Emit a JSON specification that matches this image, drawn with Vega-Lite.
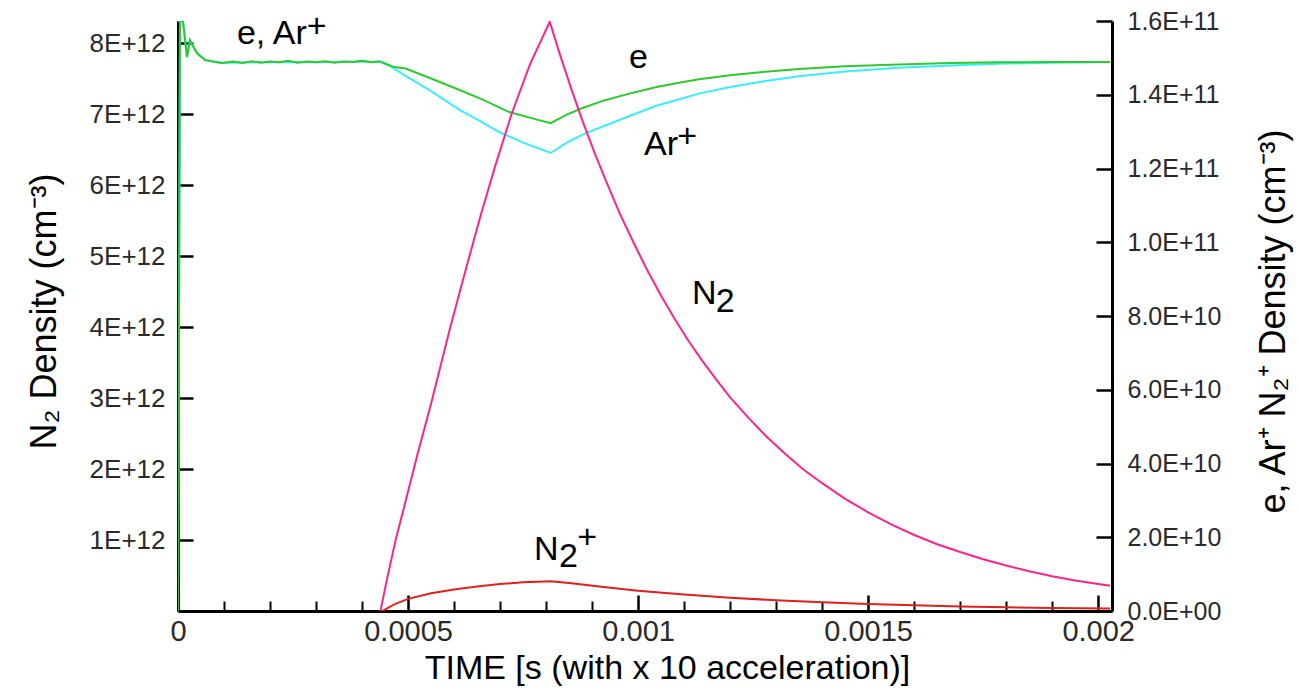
{
  "$schema": "https://vega.github.io/schema/vega-lite/v6.json",
  "width": 934,
  "height": 590,
  "autosize": {"type": "none"},
  "padding": {"left": 178, "top": 21, "right": 185, "bottom": 81},
  "background": "white",
  "config": {"view": {"stroke": null}, "font": "Liberation Sans", "axis": {"grid": false}},
  "datasets": {
    "curves": [
      {"series": "e", "t": 0, "value": 0},
      {"series": "e", "t": 0.0000043, "value": 1.6e11},
      {"series": "e", "t": 0.0000108, "value": 1.6e11},
      {"series": "e", "t": 0.0000195, "value": 1.502e11},
      {"series": "e", "t": 0.000026, "value": 1.548e11},
      {"series": "e", "t": 0.000041, "value": 1.513e11},
      {"series": "e", "t": 0.000059, "value": 1.494e11},
      {"series": "e", "t": 0.000095, "value": 1.486e11},
      {"series": "e", "t": 0.00012, "value": 1.490e11},
      {"series": "e", "t": 0.00014, "value": 1.486e11},
      {"series": "e", "t": 0.00016, "value": 1.491e11},
      {"series": "e", "t": 0.00018, "value": 1.487e11},
      {"series": "e", "t": 0.0002, "value": 1.490e11},
      {"series": "e", "t": 0.00022, "value": 1.488e11},
      {"series": "e", "t": 0.00024, "value": 1.492e11},
      {"series": "e", "t": 0.00026, "value": 1.487e11},
      {"series": "e", "t": 0.00028, "value": 1.490e11},
      {"series": "e", "t": 0.0003, "value": 1.488e11},
      {"series": "e", "t": 0.00032, "value": 1.491e11},
      {"series": "e", "t": 0.00034, "value": 1.487e11},
      {"series": "e", "t": 0.00036, "value": 1.490e11},
      {"series": "e", "t": 0.00038, "value": 1.489e11},
      {"series": "e", "t": 0.0004, "value": 1.492e11},
      {"series": "e", "t": 0.00042, "value": 1.488e11},
      {"series": "e", "t": 0.000438, "value": 1.491e11},
      {"series": "e", "t": 0.00047, "value": 1.475e11},
      {"series": "e", "t": 0.000495, "value": 1.471e11},
      {"series": "e", "t": 0.000503, "value": 1.467e11},
      {"series": "e", "t": 0.00055, "value": 1.444e11},
      {"series": "e", "t": 0.000612, "value": 1.413e11},
      {"series": "e", "t": 0.00066, "value": 1.388e11},
      {"series": "e", "t": 0.00072, "value": 1.353e11},
      {"series": "e", "t": 0.00077, "value": 1.336e11},
      {"series": "e", "t": 0.00081, "value": 1.323e11},
      {"series": "e", "t": 0.000845, "value": 1.346e11},
      {"series": "e", "t": 0.000879, "value": 1.364e11},
      {"series": "e", "t": 0.00093, "value": 1.386e11},
      {"series": "e", "t": 0.000987, "value": 1.405e11},
      {"series": "e", "t": 0.00104, "value": 1.421e11},
      {"series": "e", "t": 0.001095, "value": 1.434e11},
      {"series": "e", "t": 0.001132, "value": 1.442e11},
      {"series": "e", "t": 0.0012, "value": 1.453e11},
      {"series": "e", "t": 0.00127, "value": 1.462e11},
      {"series": "e", "t": 0.001349, "value": 1.470e11},
      {"series": "e", "t": 0.00145, "value": 1.477e11},
      {"series": "e", "t": 0.001566, "value": 1.482e11},
      {"series": "e", "t": 0.00168, "value": 1.486e11},
      {"series": "e", "t": 0.001783, "value": 1.488e11},
      {"series": "e", "t": 0.0019, "value": 1.489e11},
      {"series": "e", "t": 0.002026, "value": 1.489e11},
      {"series": "Ar+", "t": 0, "value": 0},
      {"series": "Ar+", "t": 0.0000043, "value": 1.6e11},
      {"series": "Ar+", "t": 0.0000108, "value": 1.6e11},
      {"series": "Ar+", "t": 0.0000195, "value": 1.502e11},
      {"series": "Ar+", "t": 0.000026, "value": 1.548e11},
      {"series": "Ar+", "t": 0.000041, "value": 1.513e11},
      {"series": "Ar+", "t": 0.000059, "value": 1.494e11},
      {"series": "Ar+", "t": 0.000095, "value": 1.486e11},
      {"series": "Ar+", "t": 0.0002, "value": 1.489e11},
      {"series": "Ar+", "t": 0.0003, "value": 1.488e11},
      {"series": "Ar+", "t": 0.0004, "value": 1.490e11},
      {"series": "Ar+", "t": 0.000438, "value": 1.489e11},
      {"series": "Ar+", "t": 0.00046, "value": 1.478e11},
      {"series": "Ar+", "t": 0.000503, "value": 1.445e11},
      {"series": "Ar+", "t": 0.00055, "value": 1.410e11},
      {"series": "Ar+", "t": 0.000612, "value": 1.359e11},
      {"series": "Ar+", "t": 0.00065, "value": 1.333e11},
      {"series": "Ar+", "t": 0.000698, "value": 1.299e11},
      {"series": "Ar+", "t": 0.00075, "value": 1.270e11},
      {"series": "Ar+", "t": 0.00081, "value": 1.242e11},
      {"series": "Ar+", "t": 0.000845, "value": 1.270e11},
      {"series": "Ar+", "t": 0.000879, "value": 1.292e11},
      {"series": "Ar+", "t": 0.00094, "value": 1.322e11},
      {"series": "Ar+", "t": 0.000987, "value": 1.345e11},
      {"series": "Ar+", "t": 0.00104, "value": 1.370e11},
      {"series": "Ar+", "t": 0.001095, "value": 1.390e11},
      {"series": "Ar+", "t": 0.001132, "value": 1.403e11},
      {"series": "Ar+", "t": 0.0012, "value": 1.421e11},
      {"series": "Ar+", "t": 0.00127, "value": 1.436e11},
      {"series": "Ar+", "t": 0.001349, "value": 1.450e11},
      {"series": "Ar+", "t": 0.00145, "value": 1.463e11},
      {"series": "Ar+", "t": 0.001566, "value": 1.473e11},
      {"series": "Ar+", "t": 0.00168, "value": 1.479e11},
      {"series": "Ar+", "t": 0.001783, "value": 1.484e11},
      {"series": "Ar+", "t": 0.0019, "value": 1.487e11},
      {"series": "Ar+", "t": 0.002026, "value": 1.489e11},
      {"series": "N2+", "t": 0.000444, "value": 0},
      {"series": "N2+", "t": 0.00047, "value": 1.8e9},
      {"series": "N2+", "t": 0.0005, "value": 3.3e9},
      {"series": "N2+", "t": 0.00055, "value": 4.8e9},
      {"series": "N2+", "t": 0.0006, "value": 5.85e9},
      {"series": "N2+", "t": 0.00065, "value": 6.65e9},
      {"series": "N2+", "t": 0.0007, "value": 7.3e9},
      {"series": "N2+", "t": 0.00075, "value": 7.8e9},
      {"series": "N2+", "t": 0.00081, "value": 8.1e9},
      {"series": "N2+", "t": 0.00086, "value": 7.45e9},
      {"series": "N2+", "t": 0.00092, "value": 6.6e9},
      {"series": "N2+", "t": 0.001, "value": 5.5e9},
      {"series": "N2+", "t": 0.0011, "value": 4.45e9},
      {"series": "N2+", "t": 0.0012, "value": 3.6e9},
      {"series": "N2+", "t": 0.0013, "value": 2.9e9},
      {"series": "N2+", "t": 0.0014, "value": 2.35e9},
      {"series": "N2+", "t": 0.0015, "value": 1.9e9},
      {"series": "N2+", "t": 0.0016, "value": 1.55e9},
      {"series": "N2+", "t": 0.0017, "value": 1.25e9},
      {"series": "N2+", "t": 0.0018, "value": 1.0e9},
      {"series": "N2+", "t": 0.0019, "value": 0.82e9},
      {"series": "N2+", "t": 0.002026, "value": 0.65e9},
      {"series": "N2", "t": 0.00044, "value": 0},
      {"series": "N2", "t": 0.000455, "value": 0.47e12},
      {"series": "N2", "t": 0.000473, "value": 1.0e12},
      {"series": "N2", "t": 0.000496, "value": 1.58e12},
      {"series": "N2", "t": 0.000521, "value": 2.22e12},
      {"series": "N2", "t": 0.00055, "value": 2.92e12},
      {"series": "N2", "t": 0.00059, "value": 3.95e12},
      {"series": "N2", "t": 0.00062, "value": 4.68e12},
      {"series": "N2", "t": 0.000659, "value": 5.6e12},
      {"series": "N2", "t": 0.00069, "value": 6.28e12},
      {"series": "N2", "t": 0.000725, "value": 7.0e12},
      {"series": "N2", "t": 0.000765, "value": 7.7e12},
      {"series": "N2", "t": 0.000808, "value": 8.30e12},
      {"series": "N2", "t": 0.00083, "value": 7.84e12},
      {"series": "N2", "t": 0.000855, "value": 7.35e12},
      {"series": "N2", "t": 0.00088, "value": 6.89e12},
      {"series": "N2", "t": 0.000905, "value": 6.46e12},
      {"series": "N2", "t": 0.00093, "value": 6.06e12},
      {"series": "N2", "t": 0.00096, "value": 5.6e12},
      {"series": "N2", "t": 0.00099, "value": 5.19e12},
      {"series": "N2", "t": 0.00102, "value": 4.8e12},
      {"series": "N2", "t": 0.00105, "value": 4.44e12},
      {"series": "N2", "t": 0.00108, "value": 4.11e12},
      {"series": "N2", "t": 0.00111, "value": 3.8e12},
      {"series": "N2", "t": 0.00114, "value": 3.52e12},
      {"series": "N2", "t": 0.00117, "value": 3.26e12},
      {"series": "N2", "t": 0.0012, "value": 3.01e12},
      {"series": "N2", "t": 0.00124, "value": 2.72e12},
      {"series": "N2", "t": 0.00128, "value": 2.45e12},
      {"series": "N2", "t": 0.00132, "value": 2.21e12},
      {"series": "N2", "t": 0.00136, "value": 1.99e12},
      {"series": "N2", "t": 0.0014, "value": 1.8e12},
      {"series": "N2", "t": 0.00145, "value": 1.58e12},
      {"series": "N2", "t": 0.0015, "value": 1.39e12},
      {"series": "N2", "t": 0.00155, "value": 1.22e12},
      {"series": "N2", "t": 0.0016, "value": 1.07e12},
      {"series": "N2", "t": 0.00165, "value": 0.94e12},
      {"series": "N2", "t": 0.0017, "value": 0.83e12},
      {"series": "N2", "t": 0.00175, "value": 0.73e12},
      {"series": "N2", "t": 0.0018, "value": 0.64e12},
      {"series": "N2", "t": 0.00185, "value": 0.56e12},
      {"series": "N2", "t": 0.0019, "value": 0.49e12},
      {"series": "N2", "t": 0.00195, "value": 0.43e12},
      {"series": "N2", "t": 0.002, "value": 0.38e12},
      {"series": "N2", "t": 0.002026, "value": 0.355e12}
    ],
    "notes": [
      {"label": "e, Ar", "t": 0.000128, "value": 1.537e11},
      {"label": "+", "t": 0.00028, "value": 1.557e11},
      {"label": "e", "t": 0.00098, "value": 1.4726e11},
      {"label": "Ar", "t": 0.001013, "value": 1.2366e11},
      {"label": "+", "t": 0.001085, "value": 1.2583e11},
      {"label": "N", "t": 0.001117, "value": 0.8325e11},
      {"label": "2", "t": 0.001169, "value": 0.8108e11},
      {"label": "N", "t": 0.000774, "value": 1.383e10},
      {"label": "2", "t": 0.000828, "value": 1.193e10},
      {"label": "+", "t": 0.000868, "value": 1.72e10}
    ]
  },
  "layer": [
    {
      "encoding": {
        "x": {
          "field": "t", "type": "quantitative",
          "scale": {"domain": [0, 0.00203], "nice": false, "zero": false},
          "axis": {
            "orient": "bottom",
            "values": [0.0001, 0.0002, 0.0003, 0.0004, 0.0006, 0.0007, 0.0008, 0.0009, 0.0011, 0.0012, 0.0013, 0.0014, 0.0016, 0.0017, 0.0018, 0.0019],
            "tickSize": -10, "tickWidth": 2, "tickColor": "black",
            "labels": false, "domain": false, "title": null, "grid": false
          }
        },
        "y": {
          "field": "value", "type": "quantitative",
          "scale": {"domain": [0, 1.6e11], "nice": false, "zero": false},
          "axis": {
            "orient": "right",
            "values": [0, 2e10, 4e10, 6e10, 8e10, 1e11, 1.2e11, 1.4e11, 1.6e11],
            "labelExpr": "datum.value == 0 ? '0.0E+00' : (datum.value >= 1e11 ? format(datum.value/1e11, '.1f') + 'E+11' : format(datum.value/1e10, '.1f') + 'E+10')",
            "tickSize": -16, "tickWidth": 2.5, "tickColor": "black",
            "domainWidth": 3, "domainColor": "black",
            "labelFontSize": 25, "labelColor": "#2a2a2a", "labelPadding": 31, "labelFont": "Liberation Sans",
            "labelFlush": false, "labelOverlap": false,
            "title": "e, Ar⁺ N₂⁺ Density (cm⁻³)",
            "titleFontSize": 36, "titleFontWeight": "normal", "titleColor": "black", "titleFont": "Liberation Sans",
            "titleAngle": 270, "titleX": 172, "titleY": 300, "titleAlign": "center", "titleBaseline": "alphabetic",
            "grid": false
          }
        }
      },
      "layer": [
        {
          "data": {"name": "curves"},
          "transform": [{"filter": "datum.series == 'Ar+'"}],
          "mark": {"type": "line", "color": "#38eefc", "strokeWidth": 2, "clip": true}
        },
        {
          "data": {"name": "curves"},
          "transform": [{"filter": "datum.series == 'e'"}],
          "mark": {"type": "line", "color": "#2fc92f", "strokeWidth": 2, "clip": true}
        },
        {
          "data": {"name": "curves"},
          "transform": [{"filter": "datum.series == 'N2+'"}],
          "mark": {"type": "line", "color": "#e0201c", "strokeWidth": 2, "clip": true}
        },
        {
          "data": {"name": "notes"},
          "mark": {"type": "text", "align": "left", "baseline": "alphabetic", "fontSize": 34, "font": "Liberation Sans", "color": "black"},
          "encoding": {"text": {"field": "label", "type": "nominal"}}
        }
      ]
    },
    {
      "data": {"name": "curves"},
      "transform": [{"filter": "datum.series == 'N2'"}],
      "mark": {"type": "line", "color": "#ff238c", "strokeWidth": 2, "clip": true},
      "encoding": {
        "x": {
          "field": "t", "type": "quantitative",
          "scale": {"domain": [0, 0.00203], "nice": false, "zero": false},
          "axis": {
            "orient": "bottom",
            "values": [0, 0.0005, 0.001, 0.0015, 0.002],
            "labelExpr": "format(datum.value, '.4~f')",
            "tickSize": -16, "tickWidth": 2.5, "tickColor": "black",
            "domainWidth": 3, "domainColor": "black",
            "labelFontSize": 29, "labelColor": "#2a2a2a", "labelPadding": 22, "labelFont": "Liberation Sans",
            "labelFlush": false, "labelOverlap": false,
            "title": "TIME [s (with x 10 acceleration)]",
            "titleFontSize": 34, "titleFontWeight": "normal", "titleColor": "black", "titleFont": "Liberation Sans",
            "titleX": 489, "titleY": 67, "titleAlign": "center", "titleBaseline": "alphabetic", "titleAngle": 0,
            "grid": false
          }
        },
        "y": {
          "field": "value", "type": "quantitative",
          "scale": {"domain": [0, 8.31e12], "nice": false, "zero": false},
          "axis": {
            "orient": "left",
            "values": [1e12, 2e12, 3e12, 4e12, 5e12, 6e12, 7e12, 8e12],
            "labelExpr": "(datum.value/1e12) + 'E+12'",
            "tickSize": -15, "tickWidth": 2.5, "tickColor": "black",
            "domainWidth": 3, "domainColor": "black",
            "labelFontSize": 26, "labelColor": "#2a2a2a", "labelPadding": 28, "labelFont": "Liberation Sans",
            "labelFlush": false, "labelOverlap": false,
            "title": "N₂ Density (cm⁻³)",
            "titleFontSize": 36, "titleFontWeight": "normal", "titleColor": "black", "titleFont": "Liberation Sans",
            "titleAngle": 270, "titleX": -123, "titleY": 290, "titleAlign": "center", "titleBaseline": "alphabetic",
            "grid": false
          }
        }
      }
    }
  ],
  "resolve": {"scale": {"y": "independent"}, "axis": {"x": "independent", "y": "independent"}}
}
